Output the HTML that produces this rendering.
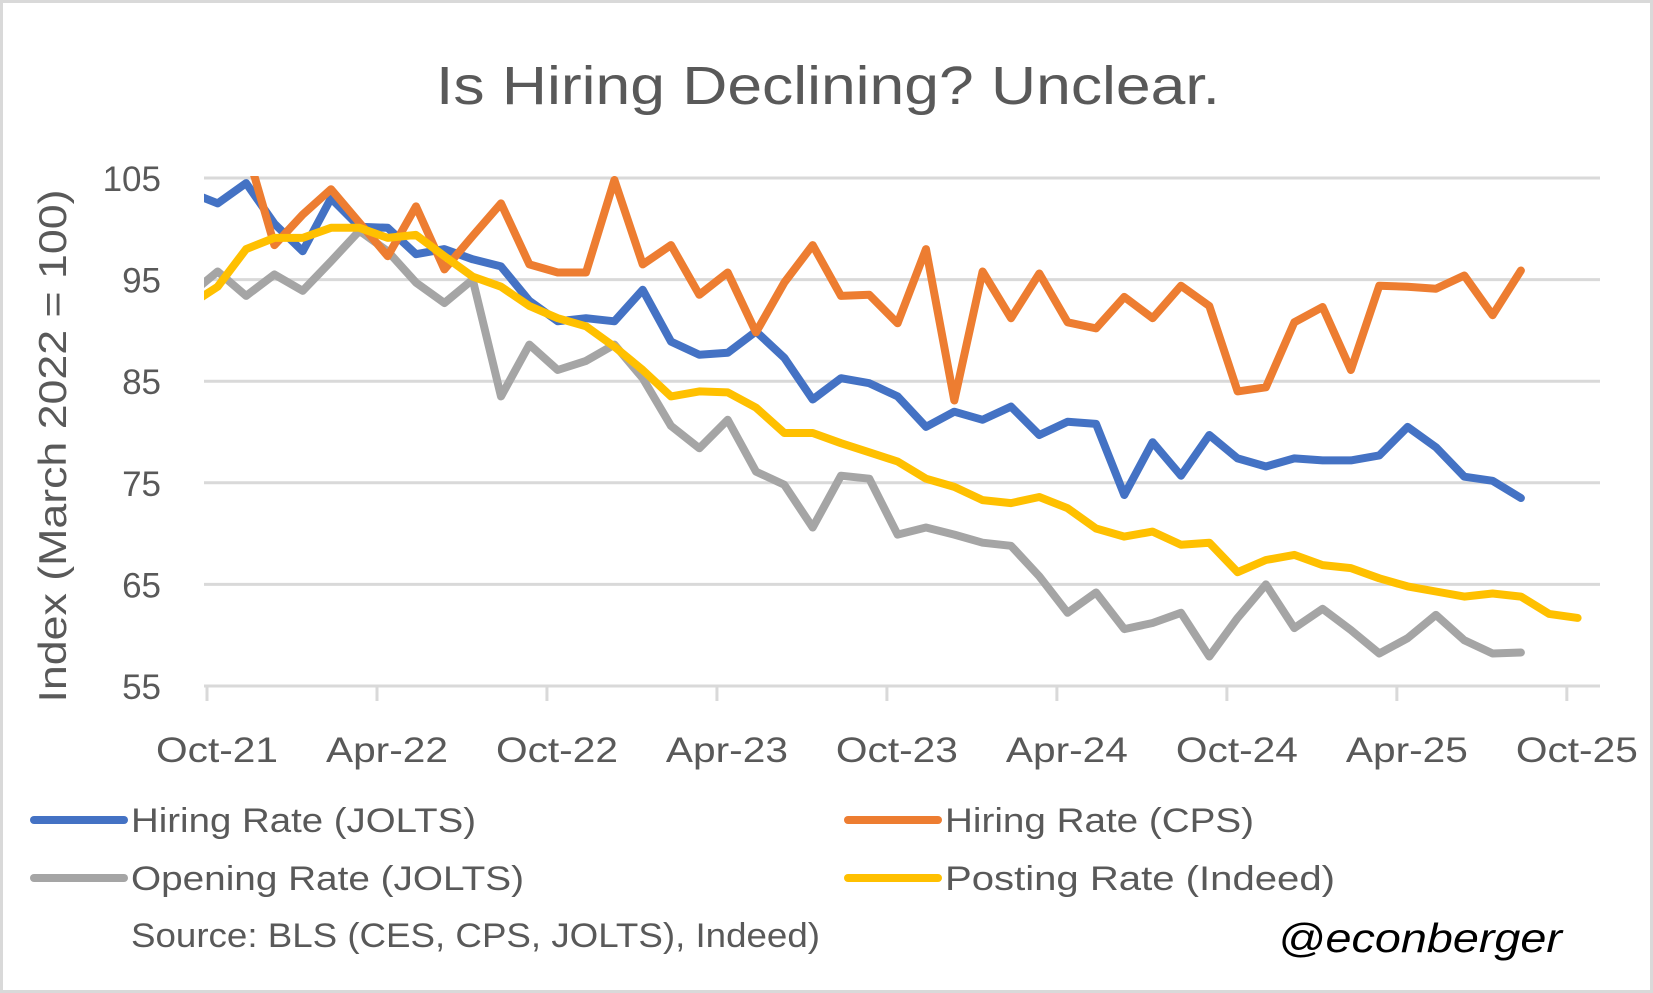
<!DOCTYPE html>
<html><head><meta charset="utf-8">
<style>
html,body{margin:0;padding:0;background:#fff;}
svg{display:block;font-family:"Liberation Sans",sans-serif;}
</style></head>
<body>
<svg id="chart" width="1653" height="993" viewBox="0 0 1653 993" xmlns="http://www.w3.org/2000/svg">
<rect x="1.5" y="1.5" width="1650" height="990" fill="#fff" stroke="#d9d9d9" stroke-width="3"/>
<text x="828" y="104" text-anchor="middle" font-size="54" fill="#595959" textLength="784" lengthAdjust="spacingAndGlyphs">Is Hiring Declining? Unclear.</text>
<text transform="translate(66,446) rotate(-90)" text-anchor="middle" font-size="39" fill="#595959" textLength="513" lengthAdjust="spacingAndGlyphs">Index (March 2022 = 100)</text>
<defs><clipPath id="plotclip"><rect x="204" y="176" width="1400" height="534"/></clipPath></defs>
<g id="grid"></g>
<g id="series" clip-path="url(#plotclip)"></g>
<g id="legend">
  <line x1="34" y1="820" x2="124" y2="820" stroke="#4472C4" stroke-width="8" stroke-linecap="round"/>
  <text x="131" y="832" font-size="34" fill="#595959" textLength="345" lengthAdjust="spacingAndGlyphs">Hiring Rate (JOLTS)</text>
  <line x1="848" y1="820" x2="938" y2="820" stroke="#ED7D31" stroke-width="8" stroke-linecap="round"/>
  <text x="945" y="832" font-size="34" fill="#595959" textLength="309" lengthAdjust="spacingAndGlyphs">Hiring Rate (CPS)</text>
  <line x1="34" y1="878" x2="124" y2="878" stroke="#A5A5A5" stroke-width="8" stroke-linecap="round"/>
  <text x="131" y="890" font-size="34" fill="#595959" textLength="393" lengthAdjust="spacingAndGlyphs">Opening Rate (JOLTS)</text>
  <line x1="848" y1="878" x2="938" y2="878" stroke="#FFC000" stroke-width="8" stroke-linecap="round"/>
  <text x="945" y="890" font-size="34" fill="#595959" textLength="390" lengthAdjust="spacingAndGlyphs">Posting Rate (Indeed)</text>
</g>
<text x="131" y="947" font-size="34" fill="#595959" textLength="689" lengthAdjust="spacingAndGlyphs">Source: BLS (CES, CPS, JOLTS), Indeed)</text>
<text x="1278" y="952" font-size="41" font-style="italic" fill="#000" textLength="284" lengthAdjust="spacingAndGlyphs">@econberger</text>
</svg>
<script>
const yTicks = [55, 65, 75, 85, 95, 105];
const xTickLabels = ["Oct-21","Apr-22","Oct-22","Apr-23","Oct-23","Apr-24","Oct-24","Apr-25","Oct-25"];
const xTickMonths = [0, 6, 12, 18, 24, 30, 36, 42, 48];
// index 0 = Sep-21 (partially clipped), then monthly
const hiringJolts = [103.6,102.5,104.5,100.5,97.8,103,100.2,100.1,97.5,98,97,96.3,92.9,90.9,91.2,90.9,94,88.9,87.6,87.8,89.9,87.3,83.2,85.3,84.8,83.5,80.5,82,81.2,82.5,79.7,81,80.8,73.8,79,75.7,79.7,77.4,76.6,77.4,77.2,77.2,77.7,80.5,78.5,75.6,75.2,73.5];
const hiringCps = [108,108,108,98.4,101.4,103.9,100.6,97.3,102.2,96,99.3,102.5,96.5,95.7,95.7,104.8,96.5,98.4,93.5,95.7,89.8,94.7,98.4,93.4,93.5,90.7,98,83.1,95.8,91.2,95.6,90.8,90.2,93.3,91.2,94.4,92.4,84,84.4,90.8,92.3,86.1,94.4,94.3,94.1,95.4,91.5,95.9];
const openingJolts = [93.5,95.8,93.4,95.5,93.9,96.8,99.8,97.8,94.7,92.7,95,83.5,88.6,86.1,87,88.6,85.3,80.6,78.4,81.2,76.1,74.8,70.6,75.7,75.4,69.9,70.6,69.9,69.1,68.8,65.8,62.2,64.2,60.6,61.2,62.2,57.9,61.7,65,60.7,62.6,60.5,58.2,59.7,62,59.5,58.2,58.3];
const postingIndeed = [92.5,94.3,98,99.1,99.1,100.1,100.1,99.1,99.4,97.3,95.3,94.3,92.4,91.2,90.4,88.4,86.1,83.5,84,83.9,82.4,79.9,79.9,78.9,78,77.1,75.4,74.6,73.3,73,73.6,72.5,70.5,69.7,70.2,68.9,69.1,66.2,67.4,67.9,66.9,66.6,65.6,64.8,64.3,63.8,64.1,63.8,62.1,61.7];

const NS = "http://www.w3.org/2000/svg";
const plotL = 204, plotR = 1600;
function yPos(v){ return 178 + (105 - v) * 10.16; }
function xPt(i){ return 189.4 + 28.33 * i; }
function xTick(m){ return 207 + 28.33 * m; }

const grid = document.getElementById("grid");
yTicks.forEach(function(t){
  const y = yPos(t);
  const ln = document.createElementNS(NS, "line");
  
  
  ln.setAttribute("x1", plotL); ln.setAttribute("x2", plotR);
  ln.setAttribute("y1", y); ln.setAttribute("y2", y);
  ln.setAttribute("stroke", "#d9d9d9"); ln.setAttribute("stroke-width", "3");
  grid.appendChild(ln);
  const tx = document.createElementNS(NS, "text");
  
  
  tx.setAttribute("x", 161); tx.setAttribute("y", y + 13);
  tx.setAttribute("text-anchor", "end"); tx.setAttribute("font-size", "35");
  tx.setAttribute("fill", "#595959");
  tx.textContent = t;
  grid.appendChild(tx);
});
xTickMonths.forEach(function(m, i){
  const x = xTick(m), y0 = yPos(55);
  const tk = document.createElementNS(NS, "line");
  
  
  tk.setAttribute("x1", x); tk.setAttribute("x2", x);
  tk.setAttribute("y1", y0); tk.setAttribute("y2", y0 + 15);
  tk.setAttribute("stroke", "#d9d9d9"); tk.setAttribute("stroke-width", "3");
  grid.appendChild(tk);
  const tx = document.createElementNS(NS, "text");
  
  
  tx.setAttribute("x", x + 10); tx.setAttribute("y", 762);
  tx.setAttribute("text-anchor", "middle"); tx.setAttribute("font-size", "35");
  tx.setAttribute("fill", "#595959");
  tx.setAttribute("textLength", "122");
  tx.setAttribute("lengthAdjust", "spacingAndGlyphs");
  tx.textContent = xTickLabels[i];
  grid.appendChild(tx);
});

const seriesG = document.getElementById("series");
function drawLine(vals, color, name){
  const pts = vals.map(function(v, i){ return xPt(i).toFixed(1) + "," + yPos(v).toFixed(1); }).join(" ");
  const pl = document.createElementNS(NS, "polyline");
  
  
  pl.setAttribute("points", pts);
  pl.setAttribute("fill", "none");
  pl.setAttribute("stroke", color);
  pl.setAttribute("stroke-width", "8");
  pl.setAttribute("stroke-linejoin", "round");
  pl.setAttribute("stroke-linecap", "round");
  seriesG.appendChild(pl);
}
drawLine(openingJolts, "#A5A5A5", "series-opening-rate-jolts");
drawLine(hiringJolts, "#4472C4", "series-hiring-rate-jolts");
drawLine(hiringCps, "#ED7D31", "series-hiring-rate-cps");
drawLine(postingIndeed, "#FFC000", "series-posting-rate-indeed");
</script>
</body></html>
